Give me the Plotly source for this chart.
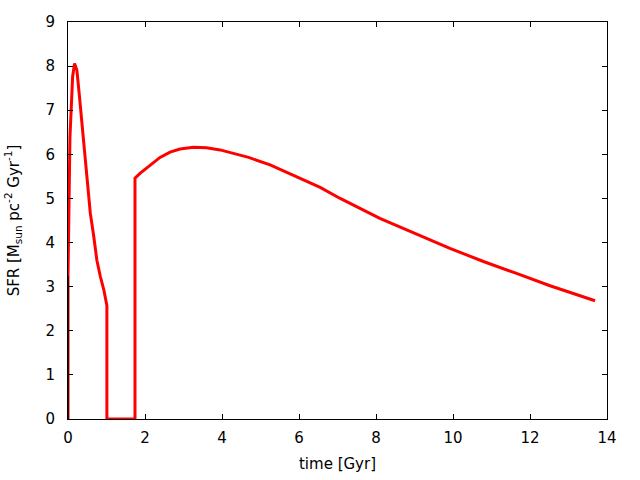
import plotly.graph_objects as go

# Phase 1: first burst
t1 = [0.0, 0.0, 0.05, 0.10, 0.12, 0.17, 0.23, 0.29, 0.35, 0.39, 0.45, 0.52, 0.58, 0.67, 0.75, 0.84, 0.93, 1.01, 1.01]
s1 = [0.0, 3.25, 6.37, 7.23, 7.76, 8.06, 7.91, 7.38, 6.85, 6.40, 5.87, 5.27, 4.66, 4.13, 3.60, 3.23, 2.93, 2.57, 0.0]
# Phase 2: quiescent gap and second infall
t2 = [1.74, 1.74, 1.87, 2.13, 2.39, 2.65, 2.91, 3.26, 3.60, 3.95, 4.30, 4.69, 5.25, 5.94, 6.55, 7.07, 8.10, 9.92, 10.79, 11.65, 12.52, 13.69]
s2 = [0.0, 5.46, 5.57, 5.76, 5.93, 6.05, 6.12, 6.16, 6.15, 6.10, 6.02, 5.93, 5.76, 5.49, 5.25, 5.00, 4.55, 3.87, 3.57, 3.30, 3.02, 2.68]

t = t1 + t2
sfr = s1 + s2

# short black initial segment at t=0
t0 = [0.0, 0.0]
s0 = [0.0, 3.25]

x_ticks = [0, 2, 4, 6, 8, 10, 12, 14]
y_ticks = [0, 1, 2, 3, 4, 5, 6, 7, 8, 9]

fig = go.Figure()
fig.add_trace(go.Scatter(x=t, y=sfr, mode="lines",
                         line=dict(color="#ff0000", width=3),
                         showlegend=False))
fig.add_trace(go.Scatter(x=t0, y=s0, mode="lines",
                         line=dict(color="black", width=1.5),
                         showlegend=False))

font = dict(family="DejaVu Sans", size=15, color="black")
axis_common = dict(showline=True, linecolor="black", linewidth=1, mirror="ticks",
                   ticks="inside", ticklen=5, tickcolor="black", showgrid=False,
                   zeroline=False, tickfont=font, automargin=False)
fig.update_xaxes(range=[0, 14], tickvals=x_ticks, ticklabelstandoff=5,
                 title=dict(text="time [Gyr]", font=font, standoff=12), **axis_common)
fig.update_yaxes(range=[0, 9], tickvals=y_ticks, ticklabelstandoff=9,
                 title=dict(text="SFR [M<sub>sun</sub> pc<sup>-2</sup> Gyr<sup>-1</sup>]",
                            font=font, standoff=22), **axis_common)
fig.update_layout(width=640, height=480, margin=dict(l=68, r=33, t=22, b=61),
                  paper_bgcolor="white", plot_bgcolor="white", font=font)
fig.write_html("out.html")
